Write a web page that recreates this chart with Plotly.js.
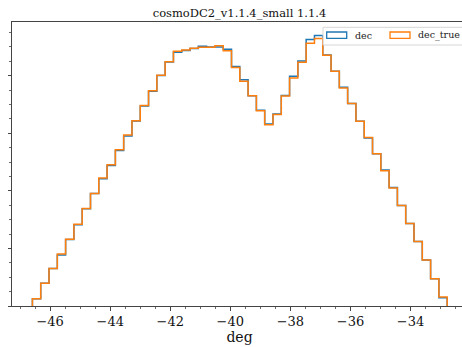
<!DOCTYPE html>
<html>
<head>
<meta charset="utf-8">
<script src="https://cdn.plot.ly/plotly-3.0.1.min.js"></script>
<style>
html, body { margin: 0; padding: 0; overflow: hidden; background: #fff; }
#chart { width: 470px; height: 347px; }
</style>
</head>
<body>
<div id="chart"></div>
<script>
// Histogram bin range (50 equal bins) and counts (arbitrary units, 1 = one major y tick)
const binLow = -46.59;
const binHigh = -32.78;
const nBins = 50;
const decCounts = [
  0.127, 0.395, 0.649, 0.887, 1.153, 1.409, 1.687, 1.953, 2.209, 2.440,
  2.701, 2.951, 3.212, 3.473, 3.727, 4.000, 4.238, 4.405, 4.435, 4.470,
  4.510, 4.499, 4.499, 4.457, 4.157, 3.930, 3.652, 3.397, 3.160, 3.334,
  3.657, 3.988, 4.256, 4.626, 4.696, 4.360, 4.075, 3.797, 3.518, 3.209,
  2.917, 2.643, 2.360, 2.057, 1.744, 1.431, 1.118, 0.800, 0.475, 0.144
];
const decTrueCounts = [
  0.127, 0.395, 0.649, 0.904, 1.160, 1.421, 1.692, 1.953, 2.221, 2.452,
  2.713, 2.969, 3.217, 3.483, 3.739, 4.005, 4.243, 4.423, 4.447, 4.475,
  4.492, 4.492, 4.517, 4.430, 4.139, 3.901, 3.652, 3.391, 3.148, 3.327,
  3.647, 3.960, 4.231, 4.562, 4.643, 4.353, 4.075, 3.786, 3.518, 3.209,
  2.927, 2.643, 2.348, 2.047, 1.744, 1.431, 1.118, 0.800, 0.475, 0.157
];
const seriesNames = ['dec', 'dec_true'];
const seriesColors = ['#1f77b4', '#ff7f0e'];
const titleText = 'cosmoDC2_v1.1.4_small 1.1.4';
const xLabel = 'deg';

const edges = [];
for (let i = 0; i <= nBins; i++) edges.push(binLow + (binHigh - binLow) * i / nBins);

function stepPath(counts) {
  const xs = [edges[0]], ys = [0];
  for (let i = 0; i < counts.length; i++) {
    xs.push(edges[i], edges[i + 1]);
    ys.push(counts[i], counts[i]);
  }
  xs.push(edges[counts.length]); ys.push(0);
  return {xs, ys};
}

const font = 'DejaVu Serif, serif';
const traces = [decCounts, decTrueCounts].map((c, k) => {
  const p = stepPath(c);
  return {
    x: p.xs, y: p.ys, type: 'scatter', mode: 'lines',
    name: seriesNames[k], showlegend: false,
    line: {color: seriesColors[k], width: 1.5, shape: 'linear'},
    hoverinfo: 'skip'
  };
});

// plot area geometry in px (for the hand-drawn legend)
const W = 470, H = 347, L = 12, R = 3, T = 22, B = 41;
const pw = W - L - R, ph = H - T - B;
const px = v => (v - L) / pw;
const py = v => (H - B - v) / ph;

const shapes = [
  {type: 'rect', xref: 'paper', yref: 'paper', layer: 'above',
   x0: px(323), x1: px(463.5), y0: py(45), y1: py(27.3),
   fillcolor: 'rgba(255,255,255,0.8)', line: {color: '#d6d6d6', width: 1}},
  {type: 'rect', xref: 'paper', yref: 'paper', layer: 'above',
   x0: px(326.7), x1: px(346.7), y0: py(38.3), y1: py(32),
   fillcolor: 'rgba(0,0,0,0)', line: {color: seriesColors[0], width: 1.3}},
  {type: 'rect', xref: 'paper', yref: 'paper', layer: 'above',
   x0: px(390), x1: px(410), y0: py(38.3), y1: py(32),
   fillcolor: 'rgba(0,0,0,0)', line: {color: seriesColors[1], width: 1.3}}
];
const annotations = [
  {xref: 'paper', yref: 'paper', x: px(352.5), y: py(35), xanchor: 'left', yanchor: 'middle',
   text: seriesNames[0], showarrow: false, font: {family: font, size: 9.5, color: '#222'}},
  {xref: 'paper', yref: 'paper', x: px(415.5), y: py(35), xanchor: 'left', yanchor: 'middle',
   text: seriesNames[1], showarrow: false, font: {family: font, size: 9.5, color: '#222'}}
];

const layout = {
  width: W, height: H,
  margin: {l: L, r: R, t: T, b: B, pad: 0},
  paper_bgcolor: '#fff', plot_bgcolor: '#fff',
  font: {family: font, color: '#111'},
  title: {text: titleText, font: {family: font, size: 11.5, color: '#111'},
          x: 0.5, xref: 'paper', xanchor: 'center', y: 1 - 12.5 / H, yref: 'container', yanchor: 'middle'},
  xaxis: {
    range: [-47.27, -32.12], showgrid: false, zeroline: false,
    showline: true, linecolor: '#444', linewidth: 1, mirror: true,
    ticks: 'outside', ticklen: 3.5, tickwidth: 1, tickcolor: '#444',
    tick0: 0, dtick: 2, tickfont: {family: font, size: 13, color: '#111'},
    minor: {dtick: 0.5, ticks: 'outside', ticklen: 2, tickwidth: 0.8, tickcolor: '#444', showgrid: false},
    title: {text: xLabel, font: {family: font, size: 14, color: '#111'}, standoff: 3},
    automargin: false
  },
  yaxis: {
    range: [0, 4.931], showgrid: false, zeroline: false,
    showline: true, linecolor: '#444', linewidth: 1, mirror: true,
    ticks: 'outside', ticklen: 3.5, tickwidth: 1, tickcolor: '#444',
    tick0: 0, dtick: 1, showticklabels: false,
    minor: {dtick: 0.25, ticks: 'outside', ticklen: 2, tickwidth: 0.8, tickcolor: '#444', showgrid: false},
    automargin: false
  },
  shapes: shapes,
  annotations: annotations,
  showlegend: false
};

Plotly.newPlot('chart', traces, layout, {staticPlot: true, displayModeBar: false});
</script>
</body>
</html>
